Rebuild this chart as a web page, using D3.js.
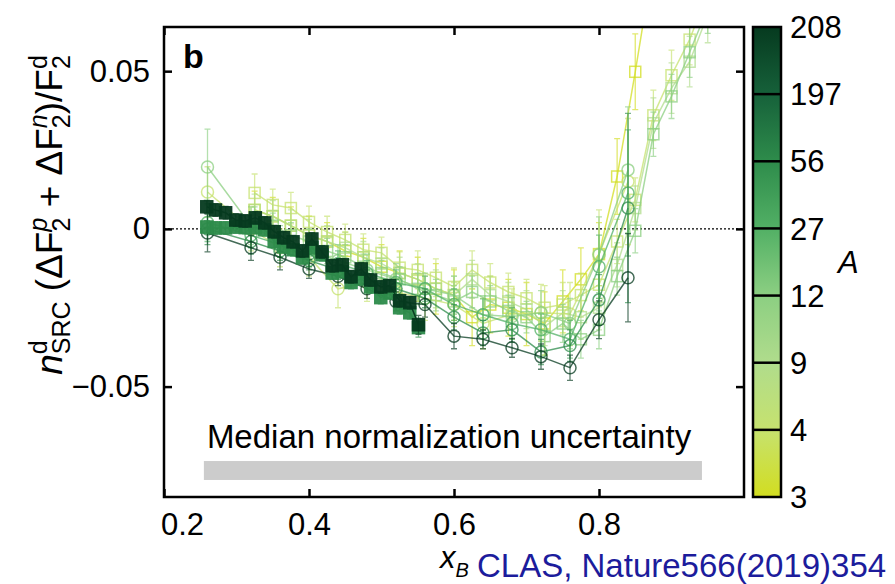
<!DOCTYPE html>
<html>
<head>
<meta charset="utf-8">
<script src="https://cdn.jsdelivr.net/npm/d3@7"></script>
<style>
body { margin: 0; background: #fff; }
text { font-family: "Liberation Sans", Arial, Helvetica, sans-serif; }
</style>
</head>
<body>
<svg id="chart" width="895" height="584"></svg>
<script>
// nuclei on the colour bar
var massNumbers = [3, 4, 9, 12, 27, 56, 197, 208];
var cmapStops = ["#d2dd20", "#c6e26e", "#b0dc8c", "#8ccf82", "#52b065", "#2e8c4b", "#16613a", "#063a1f"];

var xTicks = [0.2, 0.4, 0.6, 0.8];
var yTicks = [-0.05, 0, 0.05];

// CLAS points (open circles)
var circX = [0.26, 0.32, 0.36, 0.40, 0.44, 0.48, 0.52, 0.56, 0.60, 0.64, 0.68, 0.72, 0.76, 0.80, 0.84];
var circPb = [-0.0013, -0.006, -0.009, -0.0127, -0.015, -0.019, -0.023, -0.024, -0.034, -0.035, -0.0377, -0.0405, -0.044, -0.0288, -0.0155];
var circPbErr = [0.006, 0.004, 0.004, 0.003, 0.003, 0.003, 0.003, 0.004, 0.004, 0.003, 0.003, 0.004, 0.004, 0.006, 0.014];
var circFe = [0.000, -0.004, -0.007, -0.010, -0.013, -0.016, -0.019, -0.022, -0.028, -0.033, -0.032, -0.039, -0.037, -0.0225, 0.0066];
var circFeErr = [0.005, 0.004, 0.003, 0.003, 0.003, 0.003, 0.003, 0.003, 0.004, 0.004, 0.004, 0.004, 0.005, 0.008, 0.03];
var circAl = [0.002, -0.002, -0.005, -0.008, -0.011, -0.014, -0.017, -0.019, -0.024, -0.0272, -0.030, -0.032, -0.035, -0.012, 0.0114];
var circAlErr = [0.006, 0.004, 0.004, 0.004, 0.004, 0.004, 0.004, 0.004, 0.005, 0.005, 0.005, 0.005, 0.006, 0.01, 0.02];
var circC = [0.0196, 0.001, -0.004, -0.007, -0.010, -0.013, -0.016, -0.019, -0.021, -0.0272, -0.0278, -0.0266, -0.030, -0.0082, 0.0187];
var circCErr = [0.012, 0.006, 0.005, 0.005, 0.005, 0.005, 0.005, 0.005, 0.006, 0.006, 0.006, 0.007, 0.008, 0.012, 0.02];
var circHe = [0.0117, 0.000, -0.006, -0.009, -0.019, -0.017, -0.020, -0.022, -0.024, -0.030, -0.027, -0.0266, -0.027, -0.008, 0.015];
var circHeErr = [0.008, 0.007, 0.006, 0.006, 0.006, 0.006, 0.006, 0.007, 0.007, 0.008, 0.008, 0.009, 0.01, 0.014, 0.02];

// open squares
var sqX = [0.325, 0.35, 0.375, 0.40, 0.425, 0.45, 0.475, 0.50, 0.525, 0.55, 0.575, 0.60, 0.625,
           0.65, 0.675, 0.70, 0.725, 0.75, 0.775, 0.80, 0.825, 0.85, 0.875, 0.90, 0.925, 0.95];
var sqHe3 = [0.006, 0.004, 0.001, -0.002, -0.004, -0.007, -0.009, -0.012, -0.014, -0.016, -0.019, -0.021, -0.028,
             -0.024, -0.025, -0.027, -0.030, -0.023, -0.016, -0.008, 0.0166, 0.0498, 0.085];
var sqHe3Err = [0.006, 0.006, 0.006, 0.006, 0.006, 0.006, 0.006, 0.007, 0.007, 0.007, 0.008, 0.008, 0.009,
                0.009, 0.009, 0.01, 0.01, 0.01, 0.01, 0.01, 0.012, 0.012, 0.015];
var sqHe4 = [0.0114, 0.0076, 0.0066, 0.0022, -0.001, -0.0035, -0.0066, -0.0076, -0.0123, -0.013, -0.0155, -0.0184, -0.013,
             -0.017, -0.020, -0.022, -0.025, -0.024, -0.021, -0.0177, -0.004, 0.0092, 0.036, 0.0487, 0.060, 0.075];
var sqHe4Err = [0.006, 0.005, 0.005, 0.005, 0.005, 0.005, 0.005, 0.005, 0.005, 0.006, 0.006, 0.006, 0.006,
                0.006, 0.006, 0.006, 0.007, 0.007, 0.007, 0.007, 0.007, 0.007, 0.008, 0.008, 0.008, 0.009];
var sqBe = [0.006, 0.004, 0.001, -0.002, -0.004, -0.006, -0.009, -0.011, -0.014, -0.016, -0.019, -0.021, -0.016,
            -0.021, -0.023, -0.0256, -0.031, -0.0266, -0.028, -0.025, -0.0114, 0.0066, 0.0335, 0.0446, 0.053, 0.068];
var sqBeErr = [0.005, 0.005, 0.005, 0.005, 0.005, 0.005, 0.005, 0.005, 0.005, 0.005, 0.006, 0.006, 0.006,
               0.006, 0.006, 0.006, 0.006, 0.007, 0.007, 0.007, 0.007, 0.007, 0.008, 0.008, 0.008, 0.009];
var sqC = [0.003, 0.001, -0.002, -0.004, -0.007, -0.009, -0.012, -0.014, -0.016, -0.019, -0.021, -0.023, -0.020,
           -0.023, -0.026, -0.028, -0.034, -0.030, -0.035, -0.032, -0.015, -0.0006, 0.030, 0.042, 0.056, 0.070];
var sqCErr = [0.004, 0.004, 0.004, 0.004, 0.004, 0.004, 0.004, 0.004, 0.004, 0.005, 0.005, 0.005, 0.005,
              0.005, 0.005, 0.005, 0.006, 0.006, 0.006, 0.006, 0.006, 0.007, 0.007, 0.007, 0.008, 0.008];

// finely binned filled squares
var fillX = [0.259, 0.271, 0.285, 0.299, 0.312, 0.326, 0.339, 0.352, 0.365, 0.378, 0.391, 0.404,
             0.418, 0.432, 0.446, 0.458, 0.472, 0.485, 0.499, 0.511, 0.525, 0.539, 0.551];
var fillPb = [0.0070, 0.0060, 0.0051, 0.0028, 0.0025, 0.0035, 0.0019, -0.0009, -0.0028, -0.0041, -0.0070, -0.0032,
              -0.0073, -0.0117, -0.0114, -0.0152, -0.0127, -0.0162, -0.0184, -0.0180, -0.0228, -0.0234, -0.0304];
var fillPbErr = [0.002, 0.002, 0.002, 0.002, 0.002, 0.002, 0.002, 0.002, 0.002, 0.002, 0.002, 0.002,
                 0.002, 0.002, 0.002, 0.002, 0.002, 0.002, 0.002, 0.002, 0.002, 0.002, 0.003];
var fillFe = [0.0006, 0.0003, 0.0003, 0.0006, 0.0004, 0.0004, -0.0003, -0.0040, -0.0057, -0.0066, -0.0092, -0.0060,
              -0.0082, -0.0140, -0.0136, -0.0170, -0.0158, -0.0184, -0.0218, -0.0203, -0.0250, -0.0266, -0.0313];
var fillFeErr = [0.002, 0.002, 0.002, 0.002, 0.002, 0.002, 0.002, 0.002, 0.002, 0.002, 0.002, 0.002,
                 0.002, 0.002, 0.002, 0.002, 0.002, 0.002, 0.002, 0.002, 0.002, 0.002, 0.003];

var bandX = [0.255, 0.942];
var bandY = [-0.0796, -0.0736];

var series = [
    {A: 3,   shape: "sq",   xs: sqX,   ys: sqHe3,  es: sqHe3Err},
    {A: 4,   shape: "sq",   xs: sqX,   ys: sqHe4,  es: sqHe4Err},
    {A: 9,   shape: "sq",   xs: sqX,   ys: sqBe,   es: sqBeErr},
    {A: 12,  shape: "sq",   xs: sqX,   ys: sqC,    es: sqCErr},
    {A: 4,   shape: "circ", xs: circX, ys: circHe, es: circHeErr},
    {A: 12,  shape: "circ", xs: circX, ys: circC,  es: circCErr},
    {A: 27,  shape: "circ", xs: circX, ys: circAl, es: circAlErr},
    {A: 56,  shape: "circ", xs: circX, ys: circFe, es: circFeErr},
    {A: 208, shape: "circ", xs: circX, ys: circPb, es: circPbErr},
    {A: 56,  shape: "fill", xs: fillX, ys: fillFe, es: fillFeErr},
    {A: 208, shape: "fill", xs: fillX, ys: fillPb, es: fillPbErr}
];

var svg = d3.select("#chart");

var x = d3.scaleLinear().domain([0.2, 1.0]).range([164, 744]);
var y = d3.scaleLinear().domain([-0.085, 0.064]).range([497, 27]);
var cmap = d3.scaleLinear().domain(d3.range(cmapStops.length).map(function(i){ return i / 7; }))
    .range(cmapStops).interpolate(d3.interpolateRgb);
function colorOf(A){ return cmap(massNumbers.indexOf(A) / 7); }

svg.append("defs").append("clipPath").attr("id", "plotclip")
    .append("rect")
    .attr("x", x(0.2)).attr("y", y(0.064))
    .attr("width", x(1.0) - x(0.2)).attr("height", y(-0.085) - y(0.064));

// normalization band + label
svg.append("rect")
    .attr("x", x(bandX[0])).attr("width", x(bandX[1]) - x(bandX[0]))
    .attr("y", y(bandY[1])).attr("height", y(bandY[0]) - y(bandY[1]))
    .attr("fill", "#cccccc");
svg.append("text")
    .attr("x", x(bandX[0]) + 3).attr("y", 448)
    .style("font-size", "33px")
    .text("Median normalization uncertainty");

// zero line
svg.append("line")
    .attr("x1", x(0.2)).attr("x2", x(1.0))
    .attr("y1", y(0)).attr("y2", y(0))
    .attr("stroke", "#000").attr("stroke-width", 1.2)
    .attr("stroke-dasharray", "2,2");

var plot = svg.append("g").attr("clip-path", "url(#plotclip)");

series.forEach(function(s){
    var col = colorOf(s.A);
    var pts = s.ys.map(function(v, i){ return {x: s.xs[i], y: v, e: s.es[i]}; });
    var g = plot.append("g");
    var op = s.shape == "fill" ? 0.95 : 0.75;

    // error bars
    g.selectAll(".eb").data(pts).enter().append("path")
        .attr("d", function(d){
            var px = x(d.x), y1 = y(d.y - d.e), y2 = y(d.y + d.e);
            return "M" + px + "," + y1 + "V" + y2 +
                   "M" + (px - 3) + "," + y1 + "H" + (px + 3) +
                   "M" + (px - 3) + "," + y2 + "H" + (px + 3);
        })
        .attr("stroke", col).attr("stroke-width", 1.3)
        .attr("fill", "none").attr("opacity", 0.65);

    g.append("path").datum(pts)
        .attr("d", d3.line().x(function(d){ return x(d.x); }).y(function(d){ return y(d.y); }))
        .attr("fill", "none").attr("stroke", col)
        .attr("stroke-width", 1.5).attr("opacity", op);

    if (s.shape == "circ") {
        g.selectAll("circle").data(pts).enter().append("circle")
            .attr("cx", function(d){ return x(d.x); })
            .attr("cy", function(d){ return y(d.y); })
            .attr("r", 6)
            .attr("fill", "none").attr("stroke", col)
            .attr("stroke-width", 1.5).attr("opacity", op);
    } else {
        var sz = s.shape == "fill" ? 12 : 11;
        g.selectAll("rect").data(pts).enter().append("rect")
            .attr("x", function(d){ return x(d.x) - sz / 2; })
            .attr("y", function(d){ return y(d.y) - sz / 2; })
            .attr("width", sz).attr("height", sz)
            .attr("fill", s.shape == "fill" ? col : "none")
            .attr("stroke", col).attr("stroke-width", 1.5)
            .attr("opacity", op);
    }
});

// axes with inward ticks on all four sides
var xAxisB = d3.axisBottom(x).tickValues(xTicks).tickSizeInner(-8).tickSizeOuter(0).tickPadding(16)
    .tickFormat(d3.format(".1f"));
var xAxisT = d3.axisTop(x).tickValues(xTicks).tickSizeInner(-8).tickSizeOuter(0).tickFormat("");
var yAxisL = d3.axisLeft(y).tickValues(yTicks).tickSizeInner(-8).tickSizeOuter(0).tickPadding(14)
    .tickFormat(function(d){ return d === 0 ? "0" : d3.format(".2f")(d); });
var yAxisR = d3.axisRight(y).tickValues(yTicks).tickSizeInner(-8).tickSizeOuter(0).tickFormat("");

function styleAxis(g){
    g.select(".domain").remove();
    g.selectAll(".tick line").attr("stroke", "#000").attr("stroke-width", 2.5);
    g.selectAll(".tick text").attr("fill", "#000")
        .style("font-size", "31px")
        .style("font-family", "'Liberation Sans', Arial, sans-serif");
}

svg.append("g").attr("transform", "translate(0," + y(-0.085) + ")").call(xAxisB).call(styleAxis)
    .selectAll(".tick text").filter(function(d){ return d === 0.2; }).attr("dx", 18);
svg.append("g").attr("transform", "translate(0," + y(0.064) + ")").call(xAxisT).call(styleAxis);
svg.append("g").attr("transform", "translate(" + x(0.2) + ",0)").call(yAxisL).call(styleAxis);
svg.append("g").attr("transform", "translate(" + x(1.0) + ",0)").call(yAxisR).call(styleAxis);

svg.append("rect")
    .attr("x", x(0.2)).attr("y", y(0.064))
    .attr("width", x(1.0) - x(0.2)).attr("height", y(-0.085) - y(0.064))
    .attr("fill", "none").attr("stroke", "#000").attr("stroke-width", 2.5);

// panel letter
svg.append("text").attr("x", 183).attr("y", 68)
    .style("font-size", "34px").style("font-weight", "bold").text("b");

// y label
var yl = svg.append("text")
    .attr("transform", "translate(62,215) rotate(-90)")
    .attr("text-anchor", "middle")
    .style("font-size", "37px");
yl.append("tspan").style("font-style", "italic").text("n");
yl.append("tspan").style("font-size", "25px").attr("dy", -15).text("d");
yl.append("tspan").style("font-size", "25px").attr("dx", -13.9).attr("dy", 23).text("SRC");
yl.append("tspan").attr("dy", -8).text(" (ΔF");
yl.append("tspan").style("font-size", "25px").style("font-style", "italic").attr("dy", -15).text("p");
yl.append("tspan").style("font-size", "25px").attr("dx", -13.9).attr("dy", 23).text("2");
yl.append("tspan").attr("dy", -8).text(" + ΔF");
yl.append("tspan").style("font-size", "25px").style("font-style", "italic").attr("dy", -15).text("n");
yl.append("tspan").style("font-size", "25px").attr("dx", -13.9).attr("dy", 23).text("2");
yl.append("tspan").attr("dy", -8).text(")/F");
yl.append("tspan").style("font-size", "25px").attr("dy", -15).text("d");
yl.append("tspan").style("font-size", "25px").attr("dx", -13.9).attr("dy", 23).text("2");

// x label + citation
var xl = svg.append("text").attr("x", 440).attr("y", 568).style("font-size", "31px");
xl.append("tspan").style("font-style", "italic").text("x");
xl.append("tspan").style("font-style", "italic").style("font-size", "20px").attr("dy", 9).text("B");
svg.append("text").attr("x", 477).attr("y", 577)
    .style("font-size", "33px").attr("fill", "#1c1c9c")
    .text("CLAS, Nature566(2019)354");

// colour bar
var cb = d3.scaleLinear().domain([0, massNumbers.length - 1]).range([497, 27]);
var grad = svg.select("defs").append("linearGradient").attr("id", "cbgrad")
    .attr("x1", 0).attr("y1", 1).attr("x2", 0).attr("y2", 0);
grad.selectAll("stop").data(cmapStops).enter().append("stop")
    .attr("offset", function(d, i){ return i / (cmapStops.length - 1); })
    .attr("stop-color", function(d){ return d; });

var cbX = 753, cbW = 28;
svg.append("rect").attr("x", cbX).attr("y", cb(7)).attr("width", cbW).attr("height", cb(0) - cb(7))
    .attr("fill", "url(#cbgrad)");
svg.selectAll(".cbline").data(d3.range(1, massNumbers.length - 1)).enter().append("line")
    .attr("x1", cbX).attr("x2", cbX + cbW)
    .attr("y1", function(i){ return cb(i); }).attr("y2", function(i){ return cb(i); })
    .attr("stroke", "#000").attr("stroke-width", 2.5);
svg.append("rect").attr("x", cbX).attr("y", cb(7)).attr("width", cbW).attr("height", cb(0) - cb(7))
    .attr("fill", "none").attr("stroke", "#000").attr("stroke-width", 2.5);
svg.selectAll(".cblab").data(massNumbers).enter().append("text")
    .attr("x", 790).attr("y", function(d, i){ return cb(i); })
    .attr("dy", "0.36em")
    .style("font-size", "31px")
    .text(function(d){ return d; });
svg.append("text").attr("x", 838).attr("y", 273)
    .style("font-size", "31px").style("font-style", "italic").text("A");
</script>
</body>
</html>
